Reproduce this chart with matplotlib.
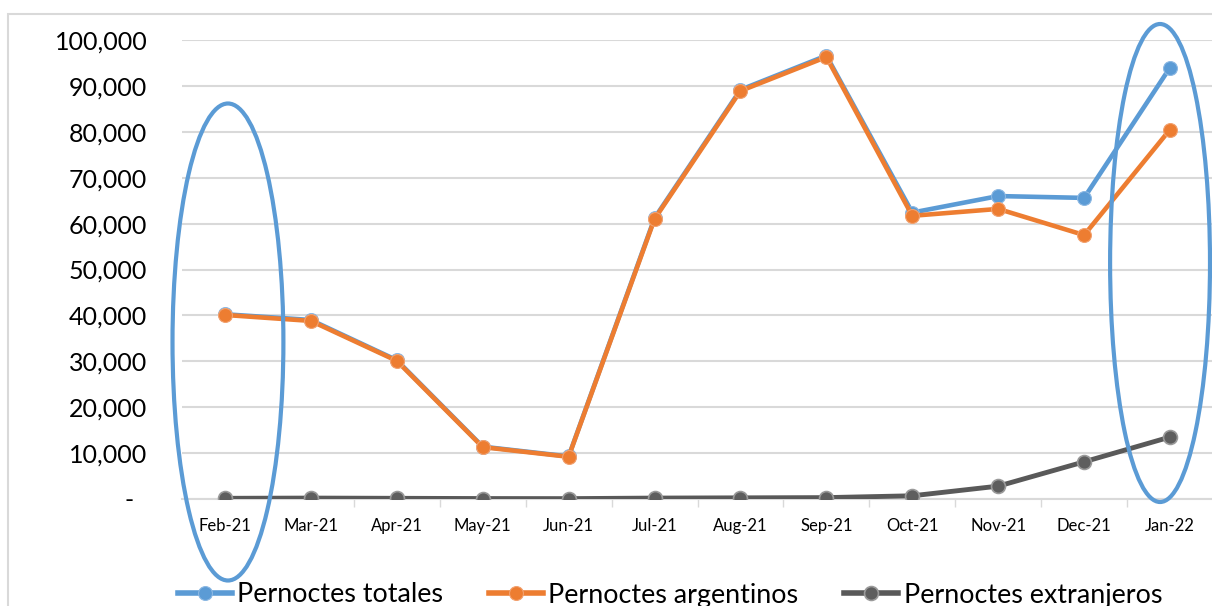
import matplotlib
matplotlib.use("Agg")
import matplotlib.pyplot as plt
from matplotlib.patches import Ellipse, Rectangle
from matplotlib.ticker import FuncFormatter

months = ["Feb-21", "Mar-21", "Apr-21", "May-21", "Jun-21", "Jul-21",
          "Aug-21", "Sep-21", "Oct-21", "Nov-21", "Dec-21", "Jan-22"]
argentinos = [40100, 38800, 30100, 11300, 9200, 61000,
              88900, 96300, 61700, 63200, 57500, 80500]
extranjeros = [150, 200, 150, 100, 80, 200, 250, 300, 700, 2800, 8100, 13500]
totales = [a + e for a, e in zip(argentinos, extranjeros)]
yticks = list(range(0, 100001, 10000))

plt.rcParams['font.family'] = ['Lato', 'DejaVu Sans']

fig = plt.figure(figsize=(12.12, 6.06), dpi=100)
ax = fig.add_axes([182/1212, 1 - 499/606, 1031/1212, (499 - 40)/606])

x = list(range(len(months)))
blue, orange, gray = "#5B9BD5", "#ED7D31", "#595959"
ax.plot(x, totales, color=blue, lw=3.3, marker='o', ms=10,
        markeredgecolor="#8CB8E3", markeredgewidth=0.8,
        label="Pernoctes totales", zorder=3)
ax.plot(x, argentinos, color=orange, lw=3.3, marker='o', ms=10,
        markeredgecolor="#F2A16F", markeredgewidth=0.8,
        label="Pernoctes argentinos", zorder=4)
ax.plot(x, extranjeros, color=gray, lw=3.5, marker='o', ms=10,
        markerfacecolor="#5E5E5E", markeredgecolor="#9A9A9A", markeredgewidth=1.2,
        label="Pernoctes extranjeros", zorder=5)

ax.set_xlim(-0.5, len(months) - 0.5)
ax.set_ylim(0, 100000)
ax.set_yticks(yticks)
ax.yaxis.set_major_formatter(FuncFormatter(
    lambda v, p: "-  " if v == 0 else f"{int(v):,}"))
ax.tick_params(axis='y', length=0, pad=25, labelsize=18, labelcolor="black")
ax.set_xticks(x)
ax.set_xticklabels(months)
ax.tick_params(axis='x', which='major', length=0, pad=14, labelsize=12)
ax.set_xticks([i + 0.5 for i in x], minor=True)
ax.tick_params(axis='x', which='minor', length=6, color="#D9D9D9", width=1)
ax.grid(axis='y', color="#D9D9D9", lw=1.5)
ax.set_axisbelow(True)
for s in ["top", "right", "left"]:
    ax.spines[s].set_visible(False)
ax.spines["bottom"].set_color("#D9D9D9")
ax.spines["bottom"].set_linewidth(1.5)

# highlight ellipses
px_x = 86.0
px_y = 459 / 100000
for cx, cy, w, h in [(228, 342, 111, 477), (1161, 263, 100, 478)]:
    dx = (cx - 225) / px_x
    dy = (499 - cy) / px_y
    e = Ellipse((dx, dy), w / px_x, h / px_y, fill=False, edgecolor=blue,
                lw=3, clip_on=False, zorder=10)
    ax.add_patch(e)

# chart border
fig.patches.append(Rectangle((8/1212, -0.1), 1.2, 1 - 14/606 + 0.1,
                             transform=fig.transFigure, fill=False,
                             edgecolor="#D9D9D9", lw=1.5))

leg = fig.legend(loc='center', bbox_to_anchor=(670/1212, 1 - 595/606), ncol=3,
                 frameon=False, fontsize=19.4, handlelength=2.0, columnspacing=1.7,
                 handletextpad=0.2, borderaxespad=0)
for h in leg.legend_handles:
    h.set_linewidth(4)

fig.savefig("out.png", dpi=100)
